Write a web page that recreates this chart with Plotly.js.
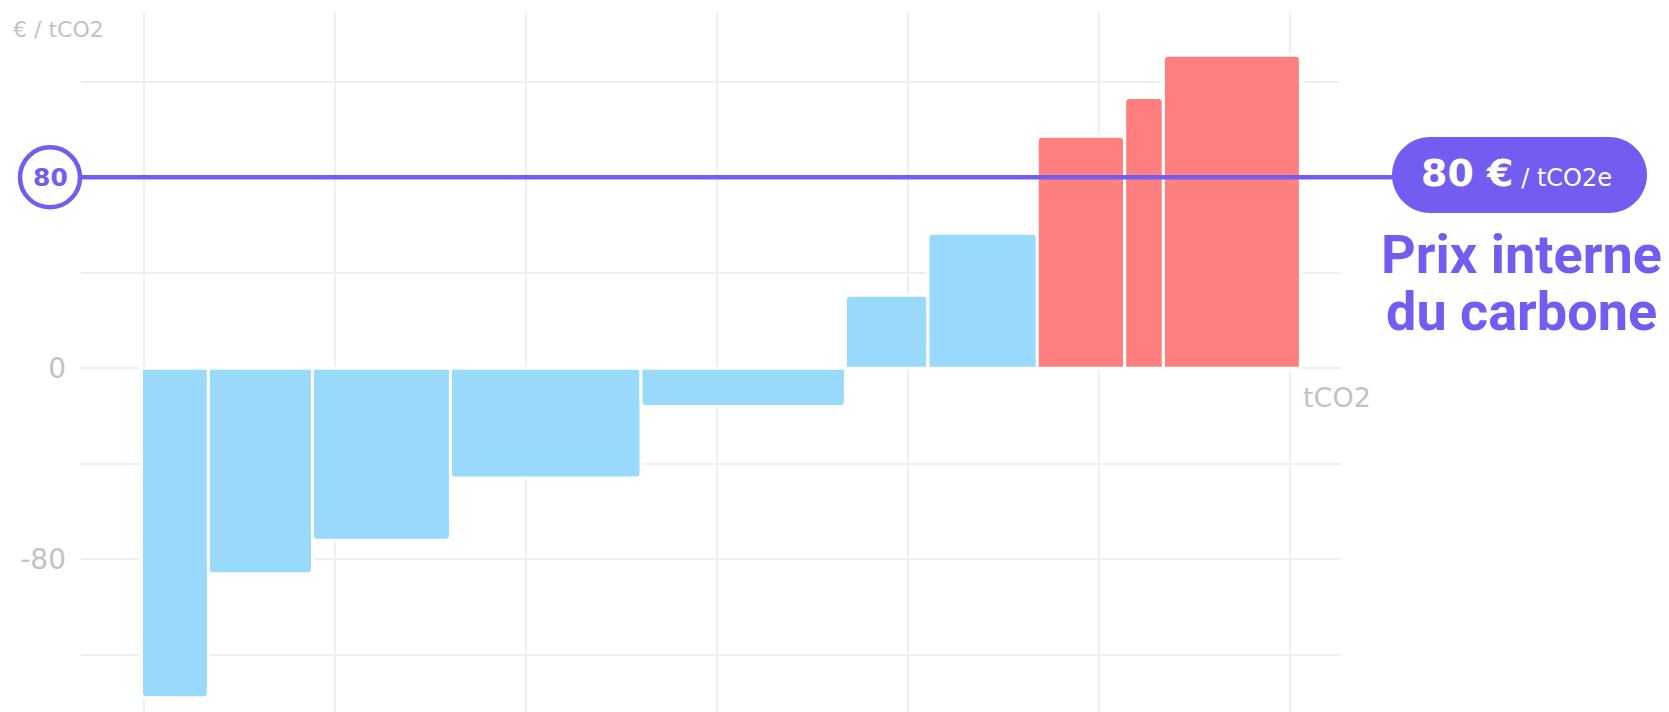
<!DOCTYPE html>
<html>
<head>
<meta charset="utf-8">
<script src="https://cdn.plot.ly/plotly-3.0.1.min.js"></script>
<style>
html,body{margin:0;padding:0;background:#fff;}
#chart{width:1669px;height:712px;}
</style>
</head>
<body>
<div id="chart"></div>
<script>
// ---- data ----
var projects = ["P1","P2","P3","P4","P5","P6","P7","P8","P9","P10"];
var volumes = [14.0, 21.8, 28.9, 39.9, 42.8, 17.3, 22.9, 18.3, 8.1, 28.7];   // tCO2 (bar widths)
var costs = [-138, -86, -72, -46, -16, 30.6, 56.6, 97.2, 113.4, 131.1];       // €/tCO2 (bar heights)
var carbonPrice = 80;                                                       // internal carbon price
var yTickVals = [-120, -80, -40, 0, 40, 80, 120];
var yTickText = ["", "-80", "", "0", "", "", ""];

// ---- style ----
var BLUE = "#98D9FC", RED = "#FF7F7F", PURPLE = "#735DF0";
var GRID = "#EFEFF3", LABEL = "#C2C2C2";
var AXFONT = "'DejaVu Sans', sans-serif";

// geometry of plot area (pixels)
var W = 1669, H = 712, L = 81, R = 1340, T = 12, B = 712;
function px2paperX(px){ return (px - L) / (R - L); }
function px2paperY(py){ return (B - py) / (B - T); }

// build bar positions from cumulative volumes
var centers = [], cum = 0;
for (var i = 0; i < volumes.length; i++) { centers.push(cum + volumes[i] / 2); cum += volumes[i]; }
var colors = costs.map(function(c){ return c < carbonPrice ? BLUE : RED; });

var trace = {
  type: "bar",
  x: centers,
  y: costs,
  width: volumes,
  text: projects,
  hoverinfo: "y",
  textposition: "none",
  marker: { color: colors, cornerradius: 5, line: { color: "#ffffff", width: 3 } }
};

// pill path (pixels, relative to anchor)
var pw = 255, ph = 76, r = ph / 2, a = pw / 2 - r, k = 0.5523;
var pill = "M " + (-a) + "," + (-r) + " L " + a + "," + (-r) +
  " C " + (a + k*r) + "," + (-r) + " " + (a + r) + "," + (-k*r) + " " + (a + r) + ",0" +
  " C " + (a + r) + "," + (k*r) + " " + (a + k*r) + "," + r + " " + a + "," + r +
  " L " + (-a) + "," + r +
  " C " + (-a - k*r) + "," + r + " " + (-a - r) + "," + (k*r) + " " + (-a - r) + ",0" +
  " C " + (-a - r) + "," + (-k*r) + " " + (-a - k*r) + "," + (-r) + " " + (-a) + "," + (-r) + " Z";

var circleX = px2paperX(50), pillX = px2paperX(1519.5);

var layout = {
  width: W, height: H,
  margin: { l: L, r: W - R, t: T, b: H - B, pad: 0 },
  paper_bgcolor: "#ffffff", plot_bgcolor: "#ffffff",
  showlegend: false,
  bargap: 0,
  font: { family: AXFONT, color: LABEL },
  xaxis: {
    range: [(L - 141.5) / 4.775, (R - 141.5) / 4.775],
    tick0: 0.5, dtick: 40,
    showgrid: true, gridcolor: GRID, gridwidth: 2,
    zeroline: false, showticklabels: false, showline: false, fixedrange: true
  },
  yaxis: {
    range: [-(B - 368.3) / 2.3875, (368.3 - T) / 2.3875],
    tickmode: "array", tickvals: yTickVals, ticktext: yTickText,
    showgrid: true, gridcolor: GRID, gridwidth: 2,
    zeroline: true, zerolinecolor: GRID, zerolinewidth: 2,
    showline: false, ticks: "", ticklabelstandoff: 14,
    tickfont: { family: AXFONT, size: 28, color: LABEL },
    fixedrange: true
  },
  shapes: [
    { type: "line", layer: "above", xref: "paper", yref: "y",
      x0: circleX, x1: pillX, y0: carbonPrice, y1: carbonPrice,
      line: { color: PURPLE, width: 4.5 } },
    { type: "circle", layer: "above", xref: "paper", yref: "y",
      xsizemode: "pixel", ysizemode: "pixel", xanchor: circleX, yanchor: carbonPrice,
      x0: -30, x1: 30, y0: -30, y1: 30,
      fillcolor: "#ffffff", line: { color: PURPLE, width: 4.5 } },
    { type: "path", layer: "above", xref: "paper", yref: "y",
      xsizemode: "pixel", ysizemode: "pixel", xanchor: pillX, yanchor: carbonPrice + 1,
      path: pill, fillcolor: PURPLE, line: { width: 0 } }
  ],
  annotations: [
    { xref: "paper", yref: "paper", x: px2paperX(11), y: px2paperY(30),
      xanchor: "left", yanchor: "middle", showarrow: false,
      text: "€ / tCO2", font: { family: AXFONT, size: 22, color: LABEL } },
    { xref: "paper", yref: "paper", x: px2paperX(1301), y: px2paperY(397),
      xanchor: "left", yanchor: "middle", showarrow: false,
      text: "tCO2", font: { family: AXFONT, size: 27, color: LABEL } },
    { xref: "paper", yref: "y", x: circleX, y: carbonPrice,
      xanchor: "center", yanchor: "middle", showarrow: false,
      text: "<b>" + carbonPrice + "</b>", font: { family: AXFONT, size: 25, color: PURPLE } },
    { xref: "paper", yref: "paper", x: px2paperX(1516), y: px2paperY(173),
      xanchor: "center", yanchor: "middle", showarrow: false,
      text: "<b>" + carbonPrice + " €</b><span style='font-size:24px'> / tCO2e</span>",
      font: { family: AXFONT, size: 38, color: "#ffffff" } },
    { xref: "paper", yref: "paper", x: px2paperX(1521), y: px2paperY(254),
      xanchor: "center", yanchor: "middle", showarrow: false,
      text: "<b>Prix interne</b>", font: { family: "Roboto, sans-serif", size: 54, color: PURPLE } },
    { xref: "paper", yref: "paper", x: px2paperX(1521), y: px2paperY(311),
      xanchor: "center", yanchor: "middle", showarrow: false,
      text: "<b>du carbone</b>", font: { family: "Roboto, sans-serif", size: 54, color: PURPLE } }
  ]
};

Plotly.newPlot("chart", [trace], layout, { displayModeBar: false, staticPlot: true });
</script>
</body>
</html>
